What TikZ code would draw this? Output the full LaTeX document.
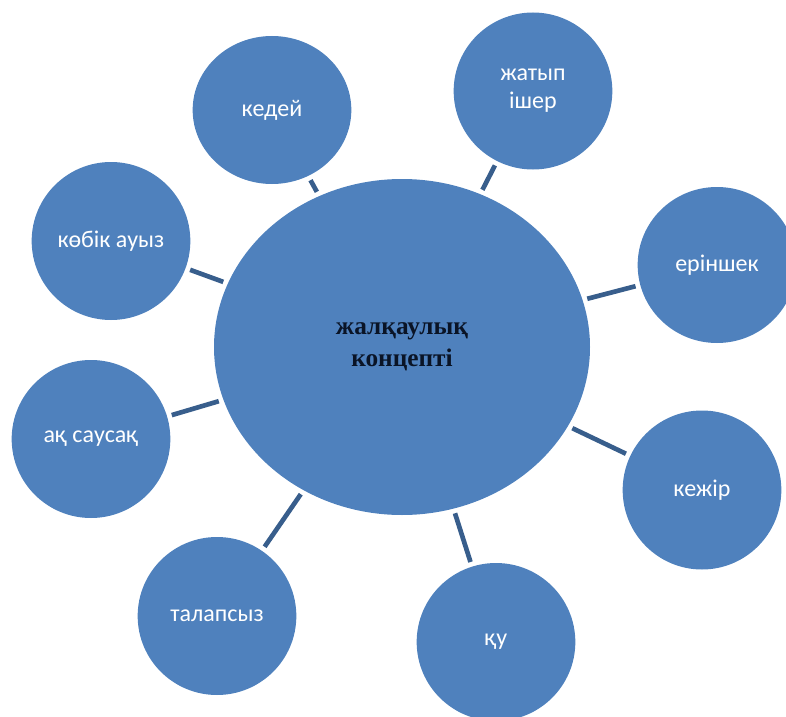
\documentclass[tikz,border=0pt]{standalone}
\usepackage{fontspec}
\setmainfont{Carlito}
\newfontfamily\serifbold{Liberation Serif}
\usetikzlibrary{shapes.geometric}
\newcommand{\MYGAP}{3.5pt}
\definecolor{myblue}{rgb}{0.31,0.506,0.741}
\definecolor{mylineblue}{rgb}{0.22,0.37,0.55}
\definecolor{mynavy}{rgb}{0.04,0.08,0.15}

\begin{document}
\begin{tikzpicture}[x=0.75pt,y=-0.75pt,
    bubble/.style={ellipse,fill=myblue,inner sep=0pt,text=white,align=center,
      font=\fontsize{18}{21}\selectfont}]

    \useasboundingbox (0,0) rectangle (786,717);% whole page, white margins included

    \node[bubble,minimum width=282pt,minimum height=252pt,text=mynavy,
      font=\serifbold\bfseries\fontsize{19}{24}\selectfont] (concept) at (402,347) {жалқаулық\\концепті};

    \foreach \name/\x/\y/\h/\word in {kedei/272/110/148/кедей,
        zhatyp/533/91/157/{жатып\\ішер},
        erinshek/717/265/156/еріншек,
        kezhir/702/490/159/кежір,
        qu/496/642/158/қу,
        talapsyz/217/616/158/талапсыз,
        aqsausaq/91/439/158/ақ саусақ,
        kobik/111/241/158/көбік ауыз}{% one bubble for every word round the concept
      \node[bubble,minimum width=119pt,minimum height=0.75*\h pt] (\name) at (\x,\y) {\word};
    }

    \foreach \name in {kedei,zhatyp,erinshek,kezhir,qu,talapsyz,aqsausaq,kobik}{% spokes, kept off both rims
      \draw[mylineblue,line width=3.5pt,shorten <=\MYGAP,shorten >=\MYGAP] (concept) -- (\name);
    }

\end{tikzpicture}
\end{document}
